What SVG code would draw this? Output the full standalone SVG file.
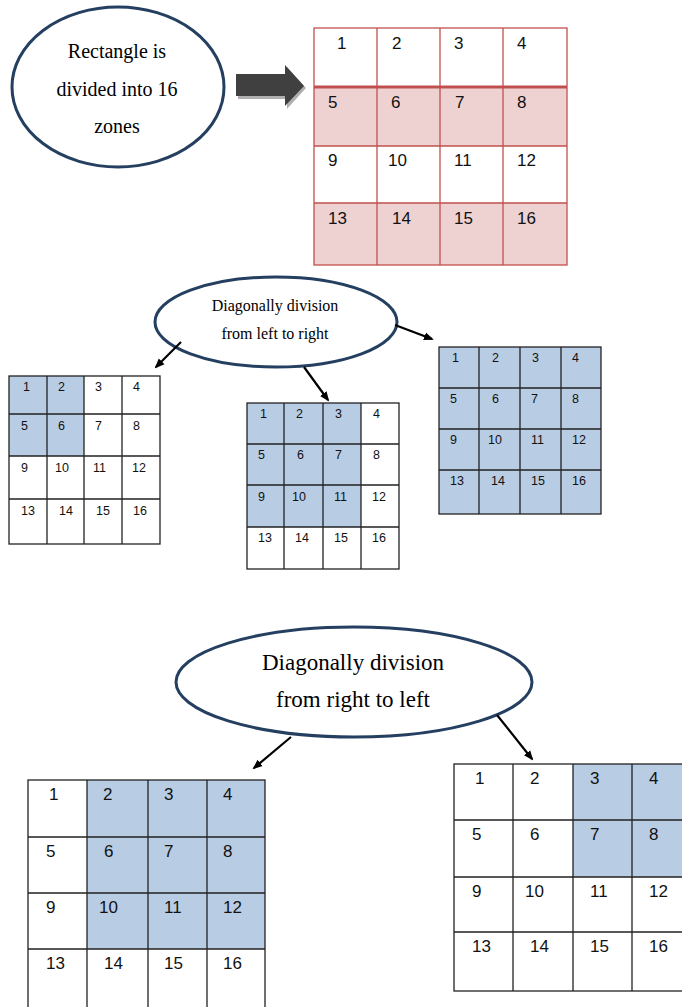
<svg xmlns="http://www.w3.org/2000/svg" width="682" height="1007" viewBox="0 0 682 1007">
<defs>
<style>
.ell{fill:#fff;stroke:#243f60;stroke-width:3}
.et{font-family:"Liberation Serif",serif;fill:#000;text-anchor:middle}
.g{fill:none;stroke:#222;stroke-width:1.3}
.tg{fill:none;stroke:#c0504d;stroke-width:1.3}
.blue{fill:#b8cce4}
.pink{fill:#eed2d2}
.n{font-family:"Liberation Sans",Arial,sans-serif;fill:#111}
.n13{font-size:12.5px}
.n18{font-size:17px}
.con{stroke:#000;stroke-width:2.2;fill:none;marker-end:url(#ah)}
</style>
<marker id="ah" markerWidth="10" markerHeight="10" refX="8" refY="5" orient="auto" markerUnits="userSpaceOnUse">
<path d="M0,1 L10,5 L0,9 Z" fill="#000"/>
</marker>
</defs>

<g id="node-rect16">
<ellipse class="ell" cx="118" cy="87" rx="106" ry="80"/>
<text class="et" x="117" y="58" font-size="20">Rectangle is</text>
<text class="et" x="117" y="96" font-size="20">divided into 16</text>
<text class="et" x="117" y="133" font-size="20">zones</text>
</g>

<g id="block-arrow">
<polygon points="238,77 287,77 287,67 306,88 287,109 287,99 238,99" fill="#b0b0b0"/>
<polygon points="236,74 285,74 285,65 304,86 285,106 285,96 236,96" fill="#404040"/>
</g>

<g id="grid-top">
<rect class="pink" x="314" y="87" width="253" height="59"/>
<rect class="pink" x="314" y="203" width="253" height="62"/>
<rect class="tg" x="314" y="28" width="253" height="237" stroke="#d98c8a"/>
<path class="tg" d="M377,28V265M440,28V265M503,28V265M314,146H567M314,203H567"/>
<path d="M314,87H567" stroke="#c0504d" stroke-width="3.2"/>
<g class="n n18">
<text x="337" y="49">1</text><text x="392" y="49">2</text><text x="454" y="49">3</text><text x="517" y="49">4</text>
<text x="328" y="108">5</text><text x="391" y="108">6</text><text x="455" y="108">7</text><text x="517" y="108">8</text>
<text x="328" y="166">9</text><text x="388" y="166">10</text><text x="454" y="166">11</text><text x="517" y="166">12</text>
<text x="328" y="224">13</text><text x="392" y="224">14</text><text x="454" y="224">15</text><text x="517" y="224">16</text>
</g>
</g>

<g id="node-ltr">
<ellipse class="ell" cx="276" cy="322" rx="121" ry="45" stroke-width="2.5"/>
<text class="et" x="275" y="311" font-size="16">Diagonally division</text>
<text class="et" x="275" y="339" font-size="16">from left to right</text>
</g>

<g id="grid-ltr-1">
<rect class="blue" x="9" y="376" width="75" height="80"/>
<rect class="g" x="9" y="376" width="151" height="168"/>
<path class="g" d="M47,376V544M84,376V544M122,376V544M9,414H160M9,456H160M9,499H160"/>
<g class="n n13">
<text x="23" y="391">1</text><text x="58" y="391">2</text><text x="95" y="391">3</text><text x="133" y="391">4</text>
<text x="21" y="430">5</text><text x="58" y="430">6</text><text x="95" y="430">7</text><text x="133" y="430">8</text>
<text x="21" y="472">9</text><text x="55" y="472">10</text><text x="93" y="472">11</text><text x="132" y="472">12</text>
<text x="21" y="515">13</text><text x="59" y="515">14</text><text x="96" y="515">15</text><text x="133" y="515">16</text>
</g>
</g>

<g id="grid-ltr-2">
<rect class="blue" x="247" y="403" width="114" height="124"/>
<rect class="g" x="247" y="403" width="152" height="166"/>
<path class="g" d="M284,403V569M323,403V569M361,403V569M247,444H399M247,485H399M247,527H399"/>
<g class="n n13">
<text x="260" y="418">1</text><text x="296" y="418">2</text><text x="335" y="418">3</text><text x="373" y="418">4</text>
<text x="258" y="459">5</text><text x="297" y="459">6</text><text x="335" y="459">7</text><text x="373" y="459">8</text>
<text x="258" y="501">9</text><text x="292" y="501">10</text><text x="334" y="501">11</text><text x="372" y="501">12</text>
<text x="258" y="542">13</text><text x="295" y="542">14</text><text x="334" y="542">15</text><text x="372" y="542">16</text>
</g>
</g>

<g id="grid-ltr-3">
<rect class="blue" x="439" y="347" width="162" height="167"/>
<rect class="g" x="439" y="347" width="162" height="167"/>
<path class="g" d="M479,347V514M520,347V514M561,347V514M439,388H601M439,429H601M439,470H601"/>
<g class="n n13">
<text x="452" y="362">1</text><text x="492" y="362">2</text><text x="532" y="362">3</text><text x="572" y="362">4</text>
<text x="450" y="403">5</text><text x="492" y="403">6</text><text x="531" y="403">7</text><text x="572" y="403">8</text>
<text x="450" y="444">9</text><text x="488" y="444">10</text><text x="531" y="444">11</text><text x="572" y="444">12</text>
<text x="450" y="485">13</text><text x="491" y="485">14</text><text x="531" y="485">15</text><text x="572" y="485">16</text>
</g>
</g>

<g id="node-rtl">
<ellipse class="ell" cx="354" cy="682" rx="178" ry="55"/>
<text class="et" x="353" y="670" font-size="23">Diagonally division</text>
<text class="et" x="353" y="707" font-size="23">from right to left</text>
</g>

<g id="grid-rtl-1">
<rect class="blue" x="87" y="780" width="178" height="169"/>
<rect class="g" x="28" y="780" width="237" height="240"/>
<path class="g" d="M87,780V1010M148,780V1010M207,780V1010M28,837H265M28,893H265M28,949H265"/>
<g class="n n18">
<text x="49" y="800">1</text><text x="103" y="800">2</text><text x="164" y="800">3</text><text x="223" y="800">4</text>
<text x="46" y="857">5</text><text x="104" y="857">6</text><text x="164" y="857">7</text><text x="223" y="857">8</text>
<text x="46" y="913">9</text><text x="99" y="913">10</text><text x="164" y="913">11</text><text x="223" y="913">12</text>
<text x="46" y="969">13</text><text x="104" y="969">14</text><text x="164" y="969">15</text><text x="223" y="969">16</text>
</g>
</g>

<g id="grid-rtl-2">
<rect class="blue" x="573" y="764" width="118" height="113"/>
<rect class="g" x="454" y="764" width="237" height="227"/>
<path class="g" d="M513,764V991M573,764V991M632,764V991M454,820H691M454,877H691M454,932H691"/>
<g class="n n18">
<text x="475" y="784">1</text><text x="530" y="784">2</text><text x="590" y="784">3</text><text x="649" y="784">4</text>
<text x="472" y="840">5</text><text x="530" y="840">6</text><text x="590" y="840">7</text><text x="649" y="840">8</text>
<text x="472" y="897">9</text><text x="525" y="897">10</text><text x="590" y="897">11</text><text x="649" y="897">12</text>
<text x="472" y="952">13</text><text x="530" y="952">14</text><text x="590" y="952">15</text><text x="649" y="952">16</text>
</g>
</g>

<g id="connectors">
<line class="con" x1="181" y1="342" x2="156" y2="367"/>
<line class="con" x1="304" y1="367" x2="328" y2="400"/>
<line class="con" x1="395" y1="325" x2="432" y2="339"/>
<line class="con" x1="291" y1="737" x2="254" y2="768"/>
<line class="con" x1="497" y1="715" x2="532" y2="759"/>
</g>
</svg>
